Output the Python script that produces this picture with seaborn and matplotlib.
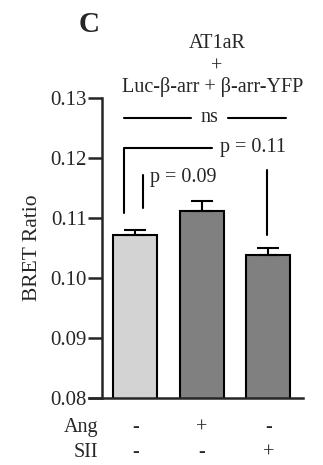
import matplotlib
matplotlib.use("Agg")
import matplotlib.pyplot as plt
import matplotlib.transforms as mtransforms
import seaborn as sns
import pandas as pd

conditions = ["Control", "Ang", "SII"]
bret_ratio = [0.1072, 0.1112, 0.1038]
sem = [0.0008, 0.0017, 0.0012]
bar_colors = ["#d3d3d3", "#808080", "#808080"]
ang_labels = ["-", "+", "-"]
sii_labels = ["-", "-", "+"]
yticks = [0.08, 0.09, 0.10, 0.11, 0.12, 0.13]

sns.set_style("ticks")
plt.rcParams['font.family'] = ['Liberation Serif', 'DejaVu Serif']

fig = plt.figure(figsize=(3.23, 4.65), dpi=100)
ax = fig.add_axes([0.316, 0.144, 0.622, 0.645])

df = pd.DataFrame({"cond": conditions, "val": bret_ratio})
sns.barplot(data=df, x="cond", y="val", hue="cond", palette=bar_colors,
            order=conditions, hue_order=conditions, width=0.66,
            edgecolor="black", linewidth=1.5, legend=False, ax=ax, errorbar=None)
ax.errorbar(range(len(conditions)), bret_ratio, yerr=[[0]*3, sem], fmt="none",
            ecolor="black", elinewidth=1.5, capsize=8, capthick=1.5, zorder=3)

ax.set_ylim(0.08, 0.13)
ax.set_xlim(-0.5, 2.52)
ax.set_yticks(yticks)
ax.set_yticklabels([f"{t:.2f}" for t in yticks], fontsize=15)
ax.set_xticks([])
ax.set_xlabel("")
ax.set_ylabel("BRET Ratio", fontsize=15.5, labelpad=6)
for s in ["top", "right"]:
    ax.spines[s].set_visible(False)
for s in ["left", "bottom"]:
    ax.spines[s].set_linewidth(1.8)
ax.tick_params(axis="y", length=10, width=1.8, pad=1)
ax.spines["bottom"].set_bounds(-0.7, 2.52)

# significance annotations
lw = 1.5
fs = 14.5
ax.plot([-0.17, 0.83], [0.1267, 0.1267], color="black", lw=lw, clip_on=False)
ax.plot([1.40, 2.26], [0.1267, 0.1267], color="black", lw=lw, clip_on=False)
ax.text(1.11, 0.1267, "ns", ha="center", va="center", fontsize=fs)
ax.plot([-0.17, -0.17, 1.16], [0.1108, 0.1217, 0.1217], color="black", lw=lw)
ax.text(1.28, 0.1217, "p = 0.11", ha="left", va="center", fontsize=fs)
ax.plot([1.98, 1.98], [0.1072, 0.118], color="black", lw=lw)
ax.plot([0.11, 0.11], [0.1117, 0.1172], color="black", lw=lw)
ax.text(0.22, 0.1168, "p = 0.09", ha="left", va="center", fontsize=fs)

# title block
fig.text(0.672, 0.907, "AT1aR", ha="center", va="center", fontsize=fs)
fig.text(0.672, 0.855, "+", ha="center", va="center", fontsize=fs)
fig.text(0.658, 0.813, "Luc-β-arr + β-arr-YFP", ha="center", va="center", fontsize=fs)
fig.text(0.276, 0.948, "C", ha="center", va="center", fontsize=21, fontweight="bold")

# treatment table
trans = mtransforms.blended_transform_factory(ax.transData, fig.transFigure)
fig.text(0.303, 0.080, "Ang", ha="right", va="center", fontsize=fs)
fig.text(0.303, 0.026, "SII", ha="right", va="center", fontsize=fs)
for i in range(len(conditions)):
    ax.text(i, 0.080, ang_labels[i], transform=trans, ha="center", va="center", fontsize=fs, clip_on=False)
    ax.text(i, 0.026, sii_labels[i], transform=trans, ha="center", va="center", fontsize=fs, clip_on=False)

fig.savefig("out.png", dpi=100)
